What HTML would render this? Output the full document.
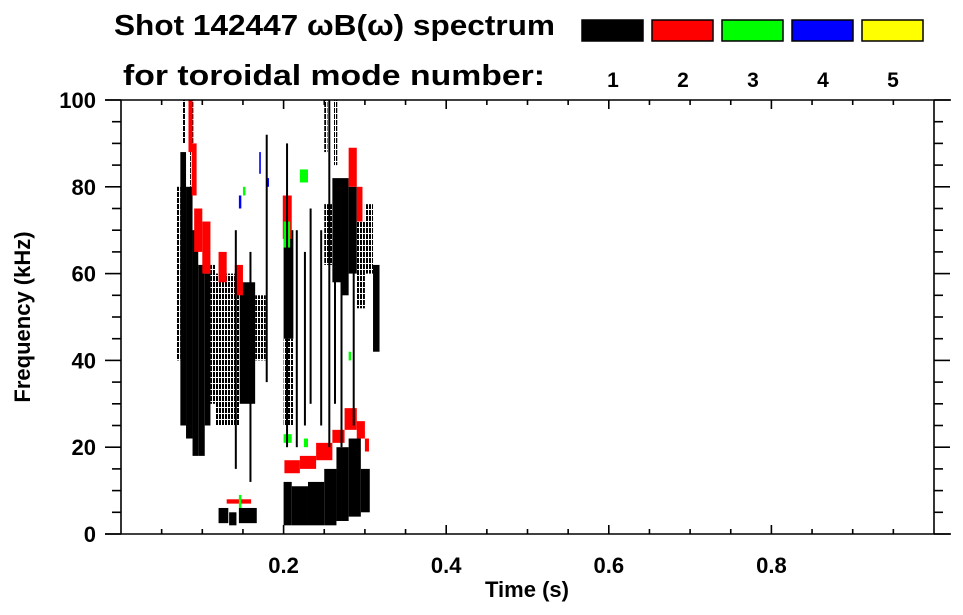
<!DOCTYPE html>
<html><head><meta charset="utf-8"><style>
html,body{margin:0;padding:0;background:#fff;}
svg{display:block;font-family:"Liberation Sans",sans-serif;font-weight:bold;}
</style></head><body>
<svg id="chart" width="963" height="615" viewBox="0 0 963 615" xmlns="http://www.w3.org/2000/svg">
<defs>
<pattern id="stripe" width="3" height="6" patternUnits="userSpaceOnUse"><rect x="0" y="0" width="2" height="5" fill="#000"/></pattern>
</defs>
<text x="114" y="35" font-size="29" textLength="441" lengthAdjust="spacingAndGlyphs">Shot 142447 ωB(ω) spectrum</text>
<text x="123" y="85" font-size="29" textLength="422" lengthAdjust="spacingAndGlyphs">for toroidal mode number:</text>
<g id="legend"></g>
<g id="marks"></g>
<g id="axes"></g>
<text x="527" y="597" font-size="22" text-anchor="middle">Time (s)</text>
<text transform="translate(30,317) rotate(-90)" font-size="22" text-anchor="middle">Frequency (kHz)</text>
</svg>
<script>
// mode colors
const modeColors = ['#000000','#ff0000','#00ff00','#0000ff','#ffff00'];
const modeLabels = ['1','2','3','4','5'];
const xTicks = [0.2,0.4,0.6,0.8];
const yTicks = [0,20,40,60,80,100];
// spectral patches: time start/end (s), freq low/high (kHz), mode, dense(1)/sparse(0)
const pT0 = [0.068,0.073,0.080,0.088,0.095,0.103,0.110, 0.116,0.146,0.165, 0.120,0.133,0.145, 0.200,0.210,0.230,0.250,0.265,0.280,0.295, 0.250,0.260,0.270,0.280,0.290,0.300,0.310, 0.200,0.200,0.075,0.085,0.250,0.262,
 0.083,0.087,0.090,0.100,0.120,0.140,0.199,0.280,0.290, 0.201,0.220,0.240,0.260,0.275,0.290,0.300,0.130,
 0.220,0.200,0.150,0.200,0.225,0.280,0.145, 0.170,0.180,0.145];
const pT1 = [0.073,0.080,0.088,0.095,0.103,0.110,0.116, 0.146,0.165,0.178, 0.132,0.142,0.167, 0.210,0.230,0.250,0.265,0.280,0.295,0.306, 0.260,0.270,0.280,0.290,0.300,0.310,0.318, 0.212,0.212,0.079,0.089,0.254,0.266,
 0.088,0.093,0.100,0.110,0.130,0.150,0.210,0.290,0.297, 0.220,0.240,0.260,0.275,0.290,0.300,0.305,0.160,
 0.230,0.208,0.153,0.210,0.230,0.283,0.148, 0.172,0.182,0.148];
const pF0 = [40,25,22,18,18,25,30, 25,30,40, 2.5,2,2.5, 2,2,2,2,3,4,5, 62,58,55,60,52,60,42, 45,25,90,80,88,85,
 88,78,65,60,58,55,68,80,72, 14,15,17,21,24,22,19,7,
 81,66,78,21,20,40,6, 83,80,75];
const pF1 = [80,88,80,70,62,60,62, 60,58,55, 6,5,6, 12,11,12,15,20,22,15, 76,82,82,80,72,76,62, 70,45,100,100,100,100,
 100,90,75,72,65,62,78,89,80, 17,18,21,24,29,26,22,8,
 84,72,80,23,22,42,9, 88,82,78];
const pMode = [1,1,1,1,1,1,1, 1,1,1, 1,1,1, 1,1,1,1,1,1,1, 1,1,1,1,1,1,1, 1,1,1,1,1,1,
 2,2,2,2,2,2,2,2,2, 2,2,2,2,2,2,2,2,
 3,3,3,3,3,3,3, 4,4,4];
const pDense = [0,1,1,1,1,1,0, 0,1,0, 1,1,1, 1,1,1,1,1,1,1, 0,1,1,1,0,0,1, 1,0,0,0,0,0,
 1,1,0,0,0,0,1,1,1, 1,1,1,1,1,1,1,0,
 0,0,1,1,1,1,1, 1,1,1];
// vertical streaks: time, freq low, freq high
const sT = [0.215,0.225,0.232,0.245,0.255,0.262,0.270,0.285,0.203,0.178,0.140,0.158];
const sF0 = [20,25,30,25,20,30,20,25,20,35,15,12];
const sF1 = [70,65,75,70,100,72,68,70,90,92,70,65];

const NS='http://www.w3.org/2000/svg';
const X0=121, X1=934, Y0=534, Y1=100;
const xs = t => X0 + t*(X1-X0);
const ys = f => Y0 - f/100*(Y0-Y1);
function mk(tag,attrs,parent){const e=document.createElementNS(NS,tag);for(const k in attrs)e.setAttribute(k,attrs[k]);parent.appendChild(e);return e;}
const marks=document.getElementById('marks');
for(let i=0;i<pT0.length;i++){
  const fill = pMode[i]===1 && !pDense[i] ? 'url(#stripe)' : modeColors[pMode[i]-1];
  const r=mk('rect',{x:xs(pT0[i]),y:ys(pF1[i]),width:xs(pT1[i])-xs(pT0[i]),height:ys(pF0[i])-ys(pF1[i]),fill:fill},marks);
  
  
}
for(let i=0;i<sT.length;i++){
  const r=mk('rect',{x:xs(sT[i]),y:ys(sF1[i]),width:2,height:ys(sF0[i])-ys(sF1[i]),fill:'#000'},marks);
  
  
}
const axes=document.getElementById('axes');
const ln=(x1,y1,x2,y2)=>mk('line',{x1,y1,x2,y2,stroke:'#000','stroke-width':1.6},axes);
ln(105,Y1,951,Y1); ln(105,Y0,951,Y0); ln(X0,Y1,X0,Y0); ln(X1,Y1,X1,Y0);
for(let k=1;k<20;k++){const t=k*0.05,x=xs(t),maj=(k%4===0);ln(x,Y0,x,Y0-(maj?9:5));ln(x,Y1,x,Y1+(maj?9:5));}
for(let k=0;k<=20;k++){const f=k*5,y=ys(f),maj=(k%4===0);ln(X0,y,X0-(maj?16:9),y);ln(X1,y,X1+(maj?16:9),y);}
xTicks.forEach(t=>{const e=mk('text',{x:xs(t),y:573,'font-size':22,'text-anchor':'middle'},axes);e.textContent=t.toFixed(1);
  
  });
yTicks.forEach(f=>{const e=mk('text',{x:96,y:ys(f)+8,'font-size':22,'text-anchor':'end'},axes);e.textContent=String(f);
  
  });
const legend=document.getElementById('legend');
modeColors.forEach((c,i)=>{const x=582+i*70;
  const r=mk('rect',{x:x,y:20,width:61,height:21,fill:c,stroke:'#000','stroke-width':1.5},legend);
  
  
  const t=mk('text',{x:x+31,y:87,'font-size':21,'text-anchor':'middle'},legend);t.textContent=modeLabels[i];
  
  
});
</script>
</body></html>
